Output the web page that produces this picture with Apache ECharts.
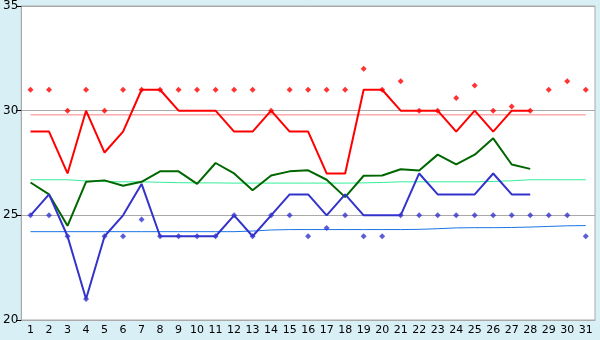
<!DOCTYPE html>
<html><head><meta charset="utf-8">
<script src="https://cdn.jsdelivr.net/npm/echarts@6/dist/echarts.min.js"></script>
<style>html,body{margin:0;padding:0;background:#d9eff6;}#c{width:600px;height:340px;}</style>
</head><body><div id="c"></div>
<script>
var days = [];
for (var i = 1; i <= 31; i++) days.push(String(i));
var yTicks = [20, 25, 30, 35];
var maxTemp = [29,29,27,30,28,29,31,31,30,30,30,29,29,30,29,29,27,27,31,31,30,30,30,29,30,29,30,30];
var meanTemp = [26.57,26,24.5,26.6,26.67,26.41,26.6,27.1,27.1,26.5,27.5,27.0,26.2,26.9,27.1,27.15,26.7,25.87,26.89,26.9,27.2,27.14,27.9,27.43,27.9,28.68,27.43,27.22];
var minTemp = [25,26,24,21,24,25,26.5,24,24,24,24,25,24,25,26,26,25,26,25,25,25,27,26,26,26,27,26,26];
var maxRec = [31,31,30,31,30,31,31,31,31,31,31,31,31,30,31,31,31,31,32,31,31.4,30,30,30.6,31.2,30,30.2,30,31,31.4,31];
var minRec = [25,25,24,21,24,24,24.8,24,24,24,24,25,24,25,25,24,24.4,25,24,24,25,25,25,25,25,25,25,25,25,25,24];
var avgMax = [29.8,29.8,29.8,29.8,29.8,29.8,29.8,29.8,29.8,29.8,29.8,29.8,29.8,29.8,29.8,29.8,29.8,29.8,29.8,29.8,29.8,29.8,29.8,29.8,29.8,29.8,29.8,29.8,29.8,29.8,29.8];
var avgMean = [26.7,26.7,26.7,26.64,26.61,26.6,26.6,26.58,26.56,26.55,26.55,26.54,26.54,26.54,26.54,26.54,26.54,26.54,26.55,26.57,26.6,26.6,26.6,26.6,26.6,26.62,26.65,26.7,26.7,26.7,26.7];
var avgMin = [24.22,24.22,24.22,24.22,24.22,24.22,24.22,24.22,24.22,24.22,24.22,24.22,24.25,24.3,24.32,24.32,24.32,24.32,24.32,24.32,24.32,24.33,24.36,24.4,24.41,24.41,24.42,24.44,24.47,24.5,24.51];

var chart = echarts.init(document.getElementById('c'), null, {renderer: 'canvas'});
var font = 'DejaVu Sans';
chart.setOption({
  animation: false,
  backgroundColor: '#d9eff6',
  grid: {left: 20, right: 5, top: 5, bottom: 20, show: true, backgroundColor: '#ffffff', borderColor: '#aaaaaa', borderWidth: 1},
  xAxis: {
    type: 'category', data: days, boundaryGap: true,
    axisLine: {lineStyle: {color: '#aaaaaa'}},
    axisTick: {alignWithLabel: true, length: 5, lineStyle: {color: '#000000'}},
    axisLabel: {color: '#000000', fontFamily: font, fontSize: 11, margin: 5, interval: 0}
  },
  yAxis: {
    type: 'value', min: 20, max: 35, interval: 5,
    axisLine: {show: true, lineStyle: {color: '#aaaaaa'}},
    axisTick: {show: true, length: 5, lineStyle: {color: '#000000'}},
    axisLabel: {color: '#000000', fontFamily: font, fontSize: 12, margin: 3},
    splitLine: {lineStyle: {color: '#aaaaaa'}}
  },
  series: [
    {type: 'line', data: avgMax, symbol: 'none', lineStyle: {color: '#ff8080', width: 1}, z: 1},
    {type: 'line', data: avgMean, symbol: 'none', lineStyle: {color: '#33ee99', width: 1}, z: 1},
    {type: 'line', data: avgMin, symbol: 'none', lineStyle: {color: '#1a75e6', width: 1}, z: 1},
    {type: 'line', data: maxTemp, symbol: 'none', lineStyle: {color: '#ff0000', width: 2}, z: 2},
    {type: 'line', data: meanTemp, symbol: 'none', lineStyle: {color: '#006600', width: 2}, z: 2},
    {type: 'line', data: minTemp, symbol: 'none', lineStyle: {color: '#3333cc', width: 2}, z: 2},
    {type: 'scatter', data: maxRec, symbol: 'diamond', symbolSize: 6, itemStyle: {color: '#ff0000'}, z: 3},
    {type: 'scatter', data: minRec, symbol: 'diamond', symbolSize: 6, itemStyle: {color: '#3333cc'}, z: 3}
  ]
});
</script></body></html>
